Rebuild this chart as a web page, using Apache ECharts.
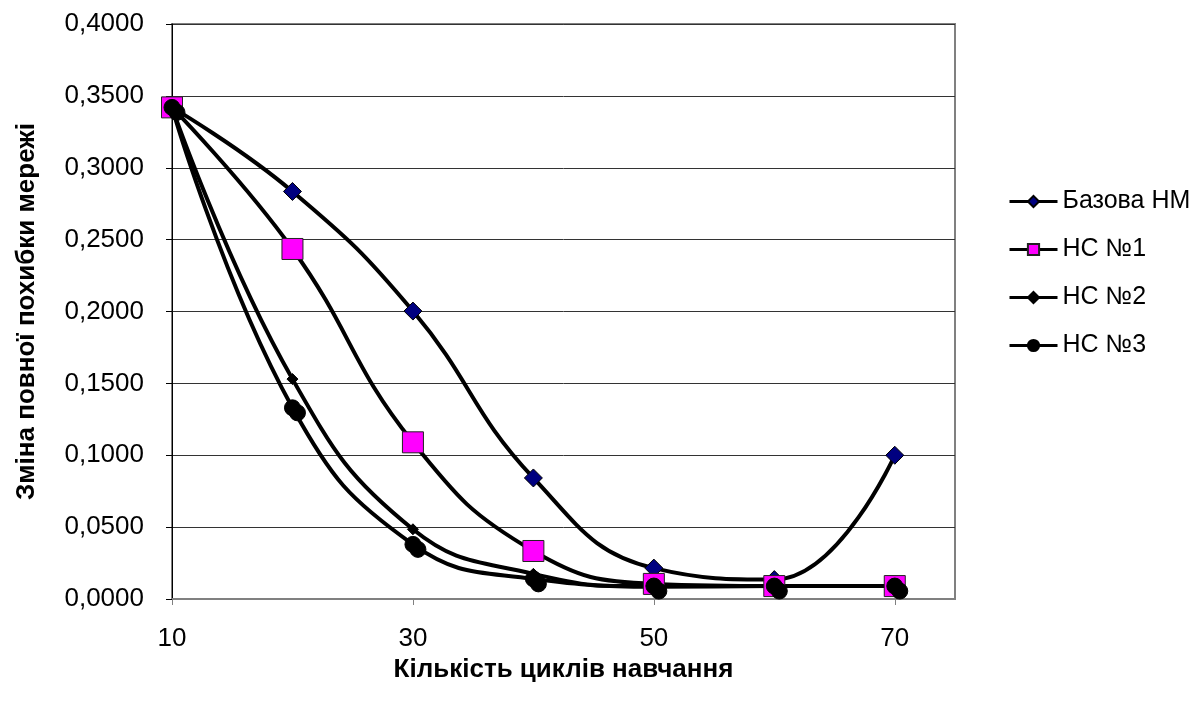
<!DOCTYPE html>
<html>
<head>
<meta charset="utf-8">
<script src="https://cdn.jsdelivr.net/npm/echarts@6/dist/echarts.min.js"></script>
<style>html,body{margin:0;padding:0;background:#fff;}#c{width:1199px;height:703px;}</style>
</head>
<body>
<div id="c"></div>
<script>
var xValues = [10, 20, 30, 40, 50, 60, 70];
var seriesNames = ['Базова НМ', 'НС №1', 'НС №2', 'НС №3'];
var baseNM = [0.342, 0.2835, 0.2003, 0.0842, 0.0215, 0.0135, 0.1000];
var ns1 = [0.342, 0.2435, 0.1090, 0.0334, 0.0105, 0.0090, 0.0090];
var ns2 = [0.342, 0.1530, 0.0485, 0.0175, 0.0085, 0.0090, 0.0090];
var ns3 = [0.342, 0.1330, 0.0380, 0.0140, 0.0090, 0.0090, 0.0090];
var yTickFormat = function (v) { return v.toFixed(4).replace('.', ','); };

function pairs(vals) { return xValues.map(function (x, i) { return [x, vals[i]]; }); }

var font = 'Liberation Sans, Arial, sans-serif';
var chart = echarts.init(document.getElementById('c'), null, {renderer: 'canvas'});
chart.setOption({
  backgroundColor: '#fff',
  animation: false,
  grid: {left: 172, top: 24, right: 244, bottom: 104, show: true, borderColor: '#808080', borderWidth: 2, backgroundColor: 'transparent'},
  legend: {
    orient: 'vertical', left: 1003, top: 184, itemGap: 23, itemWidth: 48, itemHeight: 14,
    textStyle: {fontFamily: font, fontSize: 25, color: '#000'},
    lineStyle: {width: 3},
    data: seriesNames
  },
  xAxis: {
    type: 'value', min: 10, max: 75, interval: 20,
    name: 'Кількість циклів навчання', nameLocation: 'middle', nameGap: 48,
    nameTextStyle: {fontFamily: font, fontSize: 26, fontWeight: 'bold', color: '#000'},
    axisLine: {lineStyle: {color: '#808080', width: 2}},
    axisTick: {show: true, length: 6, lineStyle: {color: '#808080'}},
    axisLabel: {fontFamily: font, fontSize: 26, color: '#000', margin: 27, showMaxLabel: false,
      formatter: function (v) { return v === 75 ? '' : String(v); }},
    splitLine: {show: false}
  },
  yAxis: {
    type: 'value', min: 0, max: 0.4, interval: 0.05,
    name: 'Зміна повної похибки мережі', nameLocation: 'middle', nameGap: 132,
    nameTextStyle: {fontFamily: font, fontSize: 26, fontWeight: 'bold', color: '#000'},
    axisLine: {show: true, lineStyle: {color: '#000', width: 1}},
    axisTick: {show: true, length: 6, lineStyle: {color: '#000'}},
    axisLabel: {fontFamily: font, fontSize: 26, color: '#000', margin: 28, formatter: yTickFormat},
    splitLine: {show: true, lineStyle: {color: '#333', width: 1}}
  },
  series: [
    {name: seriesNames[0], type: 'line', smooth: 0.45, data: pairs(baseNM),
      symbol: 'diamond', symbolSize: 18,
      lineStyle: {color: '#000', width: 4},
      itemStyle: {color: '#000080', borderColor: '#000', borderWidth: 1}},
    {name: seriesNames[1], type: 'line', smooth: 0.45, data: pairs(ns1),
      symbol: 'rect', symbolSize: 21,
      lineStyle: {color: '#000', width: 4},
      itemStyle: {color: '#FF00FF', borderColor: '#222', borderWidth: 1}},
    {name: seriesNames[2], type: 'line', smooth: 0.45, data: pairs(ns2),
      symbol: 'diamond', symbolSize: 11,
      lineStyle: {color: '#000', width: 4},
      itemStyle: {color: '#000', borderColor: '#000', borderWidth: 1}},
    {name: seriesNames[3], type: 'line', smooth: 0.45, data: pairs(ns3),
      symbol: 'circle', symbolSize: 16,
      lineStyle: {color: '#000', width: 4},
      itemStyle: {color: '#000', borderColor: '#000', borderWidth: 1,
        shadowColor: '#000', shadowBlur: 0, shadowOffsetX: 5, shadowOffsetY: 5}}
  ]
});
</script>
</body>
</html>
